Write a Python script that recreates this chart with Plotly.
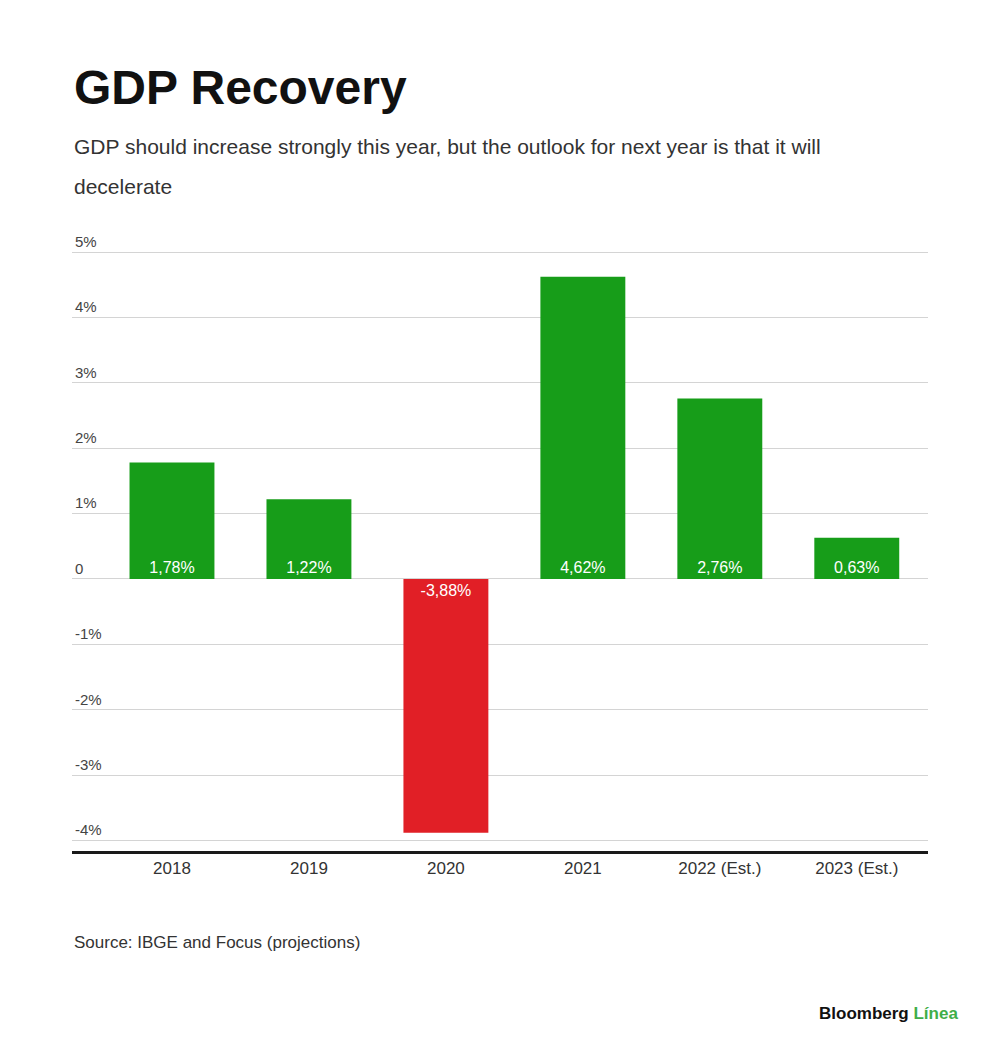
import plotly.graph_objects as go

years = ["2018", "2019", "2020", "2021", "2022 (Est.)", "2023 (Est.)"]
gdp = [1.78, 1.22, -3.88, 4.62, 2.76, 0.63]
gdp_labels = ["1,78%", "1,22%", "-3,88%", "4,62%", "2,76%", "0,63%"]
ytick_vals = [5, 4, 3, 2, 1, 0, -1, -2, -3, -4]
ytick_text = ["5%", "4%", "3%", "2%", "1%", "0", "-1%", "-2%", "-3%", "-4%"]

GREEN = "#179d19"
RED = "#e11f26"
FONT = "Liberation Sans, Arial, sans-serif"

W, H = 984, 1041
ML, MR, MT, MB = 64, 64, 241, 198

fig = go.Figure(go.Bar(
    x=years,
    y=gdp,
    text=gdp_labels,
    textposition="inside",
    insidetextanchor="start",
    textfont=dict(color="white", size=16, family=FONT),
    marker=dict(color=[RED if v < 0 else GREEN for v in gdp], line=dict(width=0)),
    width=0.62,
    hoverinfo="skip",
))

fig.update_layout(
    width=W,
    height=H,
    margin=dict(l=ML, r=MR, t=MT, b=MB),
    plot_bgcolor="white",
    paper_bgcolor="white",
    showlegend=False,
    font=dict(family=FONT, color="#333333"),
    xaxis=dict(
        range=[-0.73, 5.52],
        showgrid=False,
        showline=True,
        linecolor="#1a1a1a",
        linewidth=2.5,
        ticks="",
        tickfont=dict(size=17, color="#333333"),
        fixedrange=True,
    ),
    yaxis=dict(
        range=[-4.16, 5.046],
        tickvals=ytick_vals,
        ticktext=ytick_text,
        ticklabelposition="inside top",
        ticklabeloverflow="allow",
        tickfont=dict(size=15, color="#444444"),
        showgrid=True,
        gridcolor="#d4d4d4",
        gridwidth=1,
        zeroline=False,
        showline=False,
        ticks="",
        fixedrange=True,
    ),
)

plot_h = H - MT - MB
plot_w = W - ML - MR

def py(y):
    return (H - MB - y) / plot_h

def px(x):
    return (x - ML) / plot_w

# titles and notes (positions in figure pixels)
notes = [
    ("<b>GDP Recovery</b>", 64, 80, 48, "#111111", "left"),
    ("GDP should increase strongly this year, but the outlook for next year is that it will",
     64, 139, 21, "#333333", "left"),
    ("decelerate", 64, 178, 21, "#333333", "left"),
    ("Source: IBGE and Focus (projections)", 64, 934, 17, "#333333", "left"),
    ("<b>Bloomberg</b> <b><span style='color:#3fae49'>Línea</span></b>",
     952, 1005, 17, "#111111", "right"),
]
for text, x, y, size, color, anchor in notes:
    fig.add_annotation(
        text=text, xref="paper", yref="paper", x=px(x), y=py(y),
        showarrow=False, xanchor=anchor, yanchor="middle",
        font=dict(size=size, color=color, family=FONT),
    )

fig.write_html("out.html")
